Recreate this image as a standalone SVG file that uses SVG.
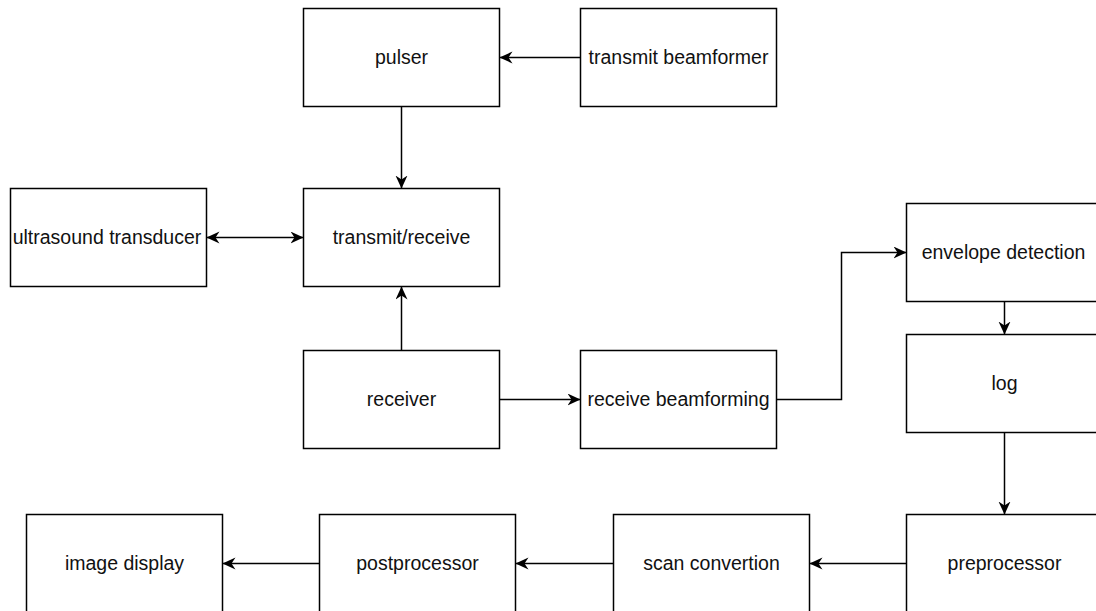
<svg xmlns="http://www.w3.org/2000/svg" width="1096" height="611" viewBox="0 0 1096 611">
  <style>
    .box { fill: #ffffff; stroke: #000000; stroke-width: 1.5; }
    .lbl { font-family: "Liberation Sans", Arial, Helvetica, sans-serif; font-size: 19.5px; fill: #111111; text-anchor: middle; }
    .conn { fill: none; stroke: #000000; stroke-width: 1.5; }
  </style>
  <defs>
    <marker id="arr" markerUnits="userSpaceOnUse" markerWidth="14" markerHeight="13" refX="13" refY="6" orient="auto-start-reverse" viewBox="0 0 14 13">
      <path d="M0,0 L13,6 L0,12 L4,6 Z" fill="#000000" stroke="none"/>
    </marker>
  </defs>
  <rect width="1096" height="611" fill="#ffffff"/>

  <g id="connectors">
    <line class="conn" x1="580.5" y1="57.5" x2="499.5" y2="57.5" marker-end="url(#arr)"/>
    <line class="conn" x1="401.5" y1="106.5" x2="401.5" y2="188.5" marker-end="url(#arr)"/>
    <line class="conn" x1="206.5" y1="237.5" x2="303.5" y2="237.5" marker-start="url(#arr)" marker-end="url(#arr)"/>
    <line class="conn" x1="401.5" y1="350.5" x2="401.5" y2="286.5" marker-end="url(#arr)"/>
    <line class="conn" x1="499.5" y1="399.5" x2="580.5" y2="399.5" marker-end="url(#arr)"/>
    <path class="conn" d="M776.5,399.5 H841.5 V252.5 H906.5" marker-end="url(#arr)"/>
    <line class="conn" x1="1004.5" y1="301.5" x2="1004.5" y2="334.5" marker-end="url(#arr)"/>
    <line class="conn" x1="1004.5" y1="432.5" x2="1004.5" y2="514.5" marker-end="url(#arr)"/>
    <line class="conn" x1="906.5" y1="563.5" x2="809.5" y2="563.5" marker-end="url(#arr)"/>
    <line class="conn" x1="613.5" y1="563.5" x2="515.5" y2="563.5" marker-end="url(#arr)"/>
    <line class="conn" x1="319.5" y1="563.5" x2="222.5" y2="563.5" marker-end="url(#arr)"/>
  </g>

  <g id="pulser">
    <rect class="box" x="303.5" y="8.5" width="196" height="98"/>
    <text class="lbl" x="401.5" y="64">pulser</text>
  </g>
  <g id="transmit-beamformer">
    <rect class="box" x="580.5" y="8.5" width="196" height="98"/>
    <text class="lbl" x="678.5" y="64">transmit beamformer</text>
  </g>
  <g id="ultrasound-transducer">
    <rect class="box" x="10.5" y="188.5" width="196" height="98"/>
    <text class="lbl" x="107" y="244">ultrasound transducer</text>
  </g>
  <g id="transmit-receive">
    <rect class="box" x="303.5" y="188.5" width="196" height="98"/>
    <text class="lbl" x="401.5" y="244">transmit/receive</text>
  </g>
  <g id="receiver">
    <rect class="box" x="303.5" y="350.5" width="196" height="98"/>
    <text class="lbl" x="401.5" y="406">receiver</text>
  </g>
  <g id="receive-beamforming">
    <rect class="box" x="580.5" y="350.5" width="196" height="98"/>
    <text class="lbl" x="678.5" y="406">receive beamforming</text>
  </g>
  <g id="envelope-detection">
    <rect class="box" x="906.5" y="203.5" width="196" height="98"/>
    <text class="lbl" x="1003.5" y="259">envelope detection</text>
  </g>
  <g id="log">
    <rect class="box" x="906.5" y="334.5" width="196" height="98"/>
    <text class="lbl" x="1004.5" y="390">log</text>
  </g>
  <g id="preprocessor">
    <rect class="box" x="906.5" y="514.5" width="196" height="98"/>
    <text class="lbl" x="1004.5" y="570">preprocessor</text>
  </g>
  <g id="scan-convertion">
    <rect class="box" x="613.5" y="514.5" width="196" height="98"/>
    <text class="lbl" x="711.5" y="570">scan convertion</text>
  </g>
  <g id="postprocessor">
    <rect class="box" x="319.5" y="514.5" width="196" height="98"/>
    <text class="lbl" x="417.5" y="570">postprocessor</text>
  </g>
  <g id="image-display">
    <rect class="box" x="26.5" y="514.5" width="196" height="98"/>
    <text class="lbl" x="124.5" y="570">image display</text>
  </g>
</svg>
